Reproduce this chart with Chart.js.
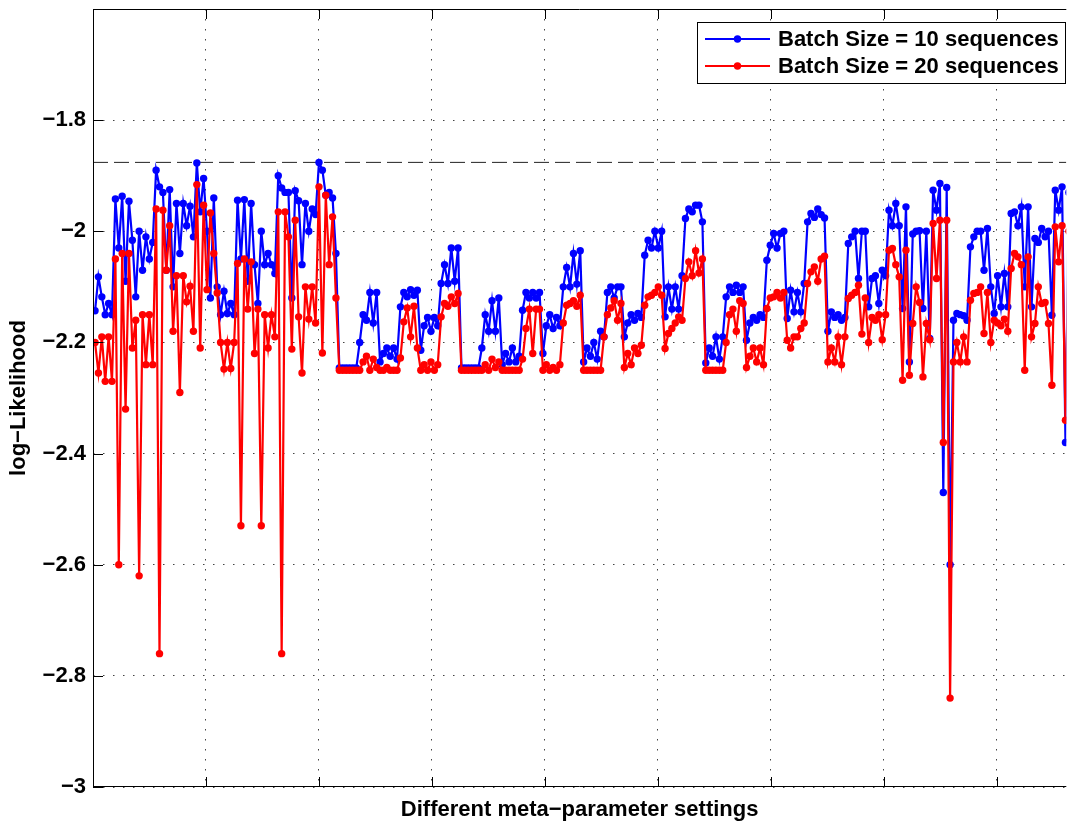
<!DOCTYPE html>
<html>
<head>
<meta charset="utf-8">
<script src="https://cdn.jsdelivr.net/npm/chart.js@4.4.1/dist/chart.umd.min.js"></script>
<style>
  html, body { margin: 0; padding: 0; background: #fff; overflow: hidden; }
  #wrap { width: 1070px; height: 823px; }
</style>
</head>
<body>
<div id="wrap"><canvas id="llChart" width="1070" height="823"></canvas></div>
<script>
// log-likelihood for each meta-parameter setting (one row = 6 settings)
const batch10 = [
  -2.143, -2.082, -2.118, -2.150, -2.130, -2.150,
  -1.942, -2.030, -1.937, -2.090, -1.946, -2.016,
  -2.118, -2.000, -2.070, -2.010, -2.050, -2.020,
  -1.890, -1.920, -1.930, -2.070, -1.925, -2.100,
  -1.950, -2.040, -1.950, -1.990, -1.955, -2.010,
  -1.877, -1.965, -1.905, -2.000, -2.120, -1.940,
  -2.100, -2.150, -2.108, -2.148, -2.130, -2.150,
  -1.944, -2.050, -1.943, -2.090, -1.950, -2.060,
  -2.130, -2.000, -2.060, -2.040, -2.060, -2.076,
  -1.900, -1.922, -1.930, -1.930, -2.120, -1.927,
  -1.945, -2.060, -1.950, -2.000, -1.960, -1.970,
  -1.876, -1.890, -1.935, -1.930, -1.940, -2.040,
  -2.246, -2.246, -2.246, -2.246, -2.246, -2.246,
  -2.200, -2.150, -2.160, -2.110, -2.165, -2.110,
  -2.235, -2.220, -2.210, -2.225, -2.210, -2.230,
  -2.136, -2.110, -2.118, -2.105, -2.115, -2.106,
  -2.214, -2.170, -2.155, -2.180, -2.155, -2.170,
  -2.094, -2.060, -2.094, -2.030, -2.090, -2.030,
  -2.246, -2.246, -2.246, -2.246, -2.246, -2.246,
  -2.210, -2.150, -2.180, -2.125, -2.180, -2.120,
  -2.240, -2.220, -2.235, -2.210, -2.235, -2.225,
  -2.142, -2.110, -2.120, -2.110, -2.120, -2.110,
  -2.220, -2.170, -2.150, -2.175, -2.155, -2.170,
  -2.100, -2.065, -2.100, -2.040, -2.095, -2.035,
  -2.235, -2.210, -2.225, -2.200, -2.230, -2.180,
  -2.190, -2.110, -2.100, -2.120, -2.100, -2.100,
  -2.190, -2.165, -2.150, -2.160, -2.148, -2.155,
  -2.043, -2.016, -2.030, -2.000, -2.030, -2.000,
  -2.154, -2.100, -2.140, -2.100, -2.140, -2.080,
  -1.977, -1.960, -1.965, -1.953, -1.953, -1.983,
  -2.237, -2.210, -2.225, -2.190, -2.230, -2.190,
  -2.118, -2.100, -2.110, -2.097, -2.110, -2.100,
  -2.196, -2.165, -2.155, -2.160, -2.150, -2.155,
  -2.052, -2.025, -2.004, -2.030, -2.004, -2.000,
  -2.157, -2.106, -2.145, -2.110, -2.145, -2.094,
  -1.983, -1.968, -1.975, -1.960, -1.970, -1.976,
  -2.180, -2.145, -2.155, -2.150, -2.160, -2.155,
  -2.022, -2.010, -2.000, -2.085, -2.000, -2.000,
  -2.136, -2.085, -2.080, -2.130, -2.070, -2.080,
  -1.962, -1.990, -1.950, -1.990, -2.139, -1.956,
  -2.235, -2.005, -2.000, -1.999, -2.139, -2.000,
  -2.193, -1.926, -1.962, -1.914, -2.470, -1.921,
  -2.600, -2.160, -2.148, -2.150, -2.152, -2.160,
  -2.028, -2.010, -2.000, -2.000, -2.070, -1.995,
  -2.100, -2.148, -2.080, -2.136, -2.076, -2.136,
  -1.968, -1.965, -1.990, -1.956, -2.100, -1.956,
  -2.136, -2.013, -2.020, -1.995, -2.010, -2.000,
  -2.151, -1.926, -1.962, -1.920, -2.380, -1.930
];

const batch20 = [
  -2.200, -2.255, -2.190, -2.270, -2.190, -2.270,
  -2.050, -2.600, -2.040, -2.320, -2.040, -2.210,
  -2.160, -2.620, -2.150, -2.240, -2.150, -2.240,
  -1.960, -2.760, -1.962, -2.070, -1.990, -2.180,
  -2.080, -2.290, -2.080, -2.127, -2.099, -2.180,
  -1.916, -2.210, -1.953, -2.105, -1.967, -2.040,
  -2.111, -2.200, -2.248, -2.200, -2.247, -2.200,
  -2.058, -2.530, -2.050, -2.140, -2.055, -2.220,
  -2.140, -2.530, -2.150, -2.210, -2.150, -2.190,
  -1.965, -2.760, -1.965, -2.010, -2.212, -1.980,
  -2.154, -2.255, -2.100, -2.158, -2.100, -2.165,
  -1.920, -2.219, -1.935, -2.060, -1.974, -2.120,
  -2.250, -2.250, -2.250, -2.250, -2.250, -2.250,
  -2.250, -2.235, -2.225, -2.250, -2.230, -2.245,
  -2.250, -2.250, -2.245, -2.250, -2.250, -2.250,
  -2.228, -2.163, -2.138, -2.190, -2.135, -2.210,
  -2.250, -2.240, -2.250, -2.235, -2.250, -2.240,
  -2.154, -2.130, -2.135, -2.118, -2.130, -2.112,
  -2.250, -2.250, -2.250, -2.250, -2.250, -2.250,
  -2.250, -2.240, -2.250, -2.230, -2.245, -2.235,
  -2.250, -2.250, -2.250, -2.250, -2.250, -2.250,
  -2.230, -2.175, -2.140, -2.220, -2.140, -2.140,
  -2.250, -2.240, -2.250, -2.245, -2.250, -2.240,
  -2.165, -2.133, -2.130, -2.125, -2.135, -2.115,
  -2.250, -2.250, -2.250, -2.250, -2.250, -2.250,
  -2.190, -2.150, -2.138, -2.125, -2.160, -2.130,
  -2.245, -2.220, -2.240, -2.210, -2.220, -2.205,
  -2.133, -2.118, -2.115, -2.110, -2.100, -2.115,
  -2.211, -2.184, -2.175, -2.165, -2.154, -2.160,
  -2.085, -2.055, -2.080, -2.035, -2.075, -2.050,
  -2.250, -2.250, -2.250, -2.250, -2.250, -2.250,
  -2.200, -2.150, -2.140, -2.180, -2.125, -2.130,
  -2.245, -2.225, -2.210, -2.235, -2.210, -2.240,
  -2.139, -2.120, -2.118, -2.110, -2.120, -2.110,
  -2.196, -2.210, -2.190, -2.190, -2.175, -2.165,
  -2.094, -2.073, -2.064, -2.090, -2.050, -2.045,
  -2.235, -2.210, -2.235, -2.190, -2.240, -2.190,
  -2.121, -2.115, -2.110, -2.097, -2.185, -2.120,
  -2.200, -2.155, -2.160, -2.150, -2.195, -2.150,
  -2.034, -2.031, -2.060, -2.082, -2.268, -2.034,
  -2.259, -2.166, -2.100, -2.128, -2.262, -2.166,
  -2.195, -1.986, -2.085, -1.980, -2.380, -1.980,
  -2.840, -2.235, -2.200, -2.235, -2.190, -2.235,
  -2.124, -2.112, -2.110, -2.100, -2.184, -2.110,
  -2.200, -2.160, -2.165, -2.170, -2.158, -2.180,
  -2.067, -2.040, -2.046, -2.060, -2.250, -2.046,
  -2.190, -2.166, -2.100, -2.130, -2.128, -2.166,
  -2.277, -1.992, -2.055, -1.990, -2.340, -2.000
];

// best value reached, shown as a dashed reference line
const bestLL = -1.876;

const yTicks = [-3, -2.8, -2.6, -2.4, -2.2, -2, -1.8, -1.6];
const seriesNames = ['Batch Size = 10 sequences', 'Batch Size = 20 sequences'];
const seriesColors = ['#0000ff', '#ff0000'];

const X_MIN = 0.4, X_MAX = 287.25, X_STEP = 33.29;
const FONT = '"Liberation Sans", Arial, Helvetica, sans-serif';
const DOT = 3.7;

const toPoints = arr => arr.map((v, i) => ({ x: i + 1, y: v }));

// MATLAB-like axes box with inward tick marks
const axesFrame = {
  id: 'axesFrame',
  afterDraw(chart) {
    const { ctx, chartArea: a, scales } = chart;
    ctx.save();
    ctx.strokeStyle = '#000';
    ctx.lineWidth = 1;
    ctx.beginPath();
    ctx.moveTo(a.left + 0.5, a.top);
    ctx.lineTo(a.left + 0.5, a.bottom);
    ctx.moveTo(a.left, a.top + 0.5);
    ctx.lineTo(a.right, a.top + 0.5);
    ctx.moveTo(a.left, a.bottom - 0.5);
    ctx.lineTo(a.right, a.bottom - 0.5);
    scales.x.ticks.forEach(t => {
      const px = Math.round(scales.x.getPixelForValue(t.value)) + 0.5;
      ctx.moveTo(px, a.top); ctx.lineTo(px, a.top + 10);
      ctx.moveTo(px, a.bottom); ctx.lineTo(px, a.bottom - 10);
    });
    scales.y.ticks.forEach(t => {
      const py = Math.round(scales.y.getPixelForValue(t.value)) + 0.5;
      ctx.moveTo(a.left, py); ctx.lineTo(a.left + 10, py);
    });
    ctx.stroke();
    ctx.restore();
  }
};

// boxed legend with line + marker samples
const legendBox = {
  id: 'legendBox',
  afterDraw(chart) {
    const ctx = chart.ctx;
    const box = { x: 697.5, y: 22.5, w: 368, h: 61 };
    ctx.save();
    ctx.fillStyle = '#fff';
    ctx.fillRect(box.x, box.y, box.w, box.h);
    ctx.strokeStyle = '#000';
    ctx.lineWidth = 1;
    ctx.strokeRect(box.x, box.y, box.w, box.h);
    ctx.font = 'bold 22px ' + FONT;
    ctx.textBaseline = 'middle';
    ctx.textAlign = 'left';
    seriesNames.forEach((name, k) => {
      const y = 39 + k * 27;
      ctx.strokeStyle = seriesColors[k];
      ctx.lineWidth = 2;
      ctx.beginPath();
      ctx.moveTo(705, y);
      ctx.lineTo(770, y);
      ctx.stroke();
      ctx.fillStyle = seriesColors[k];
      ctx.beginPath();
      ctx.arc(737.5, y, DOT, 0, Math.PI * 2);
      ctx.fill();
      ctx.fillStyle = '#000';
      ctx.fillText(name, 778, y + 1);
    });
    ctx.restore();
  }
};

const gridStyle = { color: '#444', lineWidth: 1, drawTicks: false };

new Chart(document.getElementById('llChart'), {
  type: 'line',
  data: {
    datasets: [
      {
        label: seriesNames[1],
        data: toPoints(batch20),
        borderColor: seriesColors[1],
        backgroundColor: seriesColors[1],
        borderWidth: 2.2,
        pointRadius: DOT,
        pointBorderWidth: 0,
        pointHoverRadius: DOT,
        tension: 0,
        order: 1
      },
      {
        label: seriesNames[0],
        data: toPoints(batch10),
        borderColor: seriesColors[0],
        backgroundColor: seriesColors[0],
        borderWidth: 2.2,
        pointRadius: DOT,
        pointBorderWidth: 0,
        pointHoverRadius: DOT,
        tension: 0,
        order: 2
      },
      {
        label: 'best',
        data: [{ x: X_MIN, y: bestLL }, { x: X_MAX, y: bestLL }],
        borderColor: '#222',
        borderWidth: 1,
        borderDash: [15, 6],
        pointRadius: 0,
        order: 3
      }
    ]
  },
  options: {
    responsive: false,
    animation: false,
    layout: { padding: { top: 9, right: 0, bottom: 0, left: 0 } },
    plugins: {
      legend: { display: false },
      tooltip: { enabled: false }
    },
    scales: {
      x: {
        type: 'linear',
        min: X_MIN,
        max: X_MAX,
        afterBuildTicks: s => {
          const t = [];
          for (let v = X_MIN; v <= X_MAX; v += X_STEP) t.push({ value: v });
          s.ticks = t;
        },
        afterFit: s => { s.height = 36; s.paddingLeft = 0; s.paddingRight = 0; },
        ticks: { display: false },
        grid: gridStyle,
        border: { display: false, dash: [1.5, 8.5] },
        title: {
          display: true,
          text: 'Different meta\u2212parameter settings',
          color: '#000',
          font: { family: FONT, size: 22, weight: 'bold' },
          padding: { top: 0, bottom: 0 }
        }
      },
      y: {
        min: -3,
        max: -1.6,
        afterBuildTicks: s => { s.ticks = yTicks.map(v => ({ value: v })); },
        afterFit: s => { s.width = 93; s.paddingTop = 0; s.paddingBottom = 0; },
        ticks: {
          color: '#000',
          padding: 7,
          font: { family: FONT, size: 22, weight: 'bold' },
          callback: v => (v > -1.7 ? '' : String(Number(v.toFixed(1))).replace('-', '\u2212'))
        },
        grid: gridStyle,
        border: { display: false, dash: [1.5, 8.5] },
        title: {
          display: true,
          text: 'log\u2212Likelihood',
          color: '#000',
          font: { family: FONT, size: 22, weight: 'bold' },
          padding: { top: 6, bottom: 0 }
        }
      }
    }
  },
  plugins: [axesFrame, legendBox]
});
</script>
</body>
</html>
